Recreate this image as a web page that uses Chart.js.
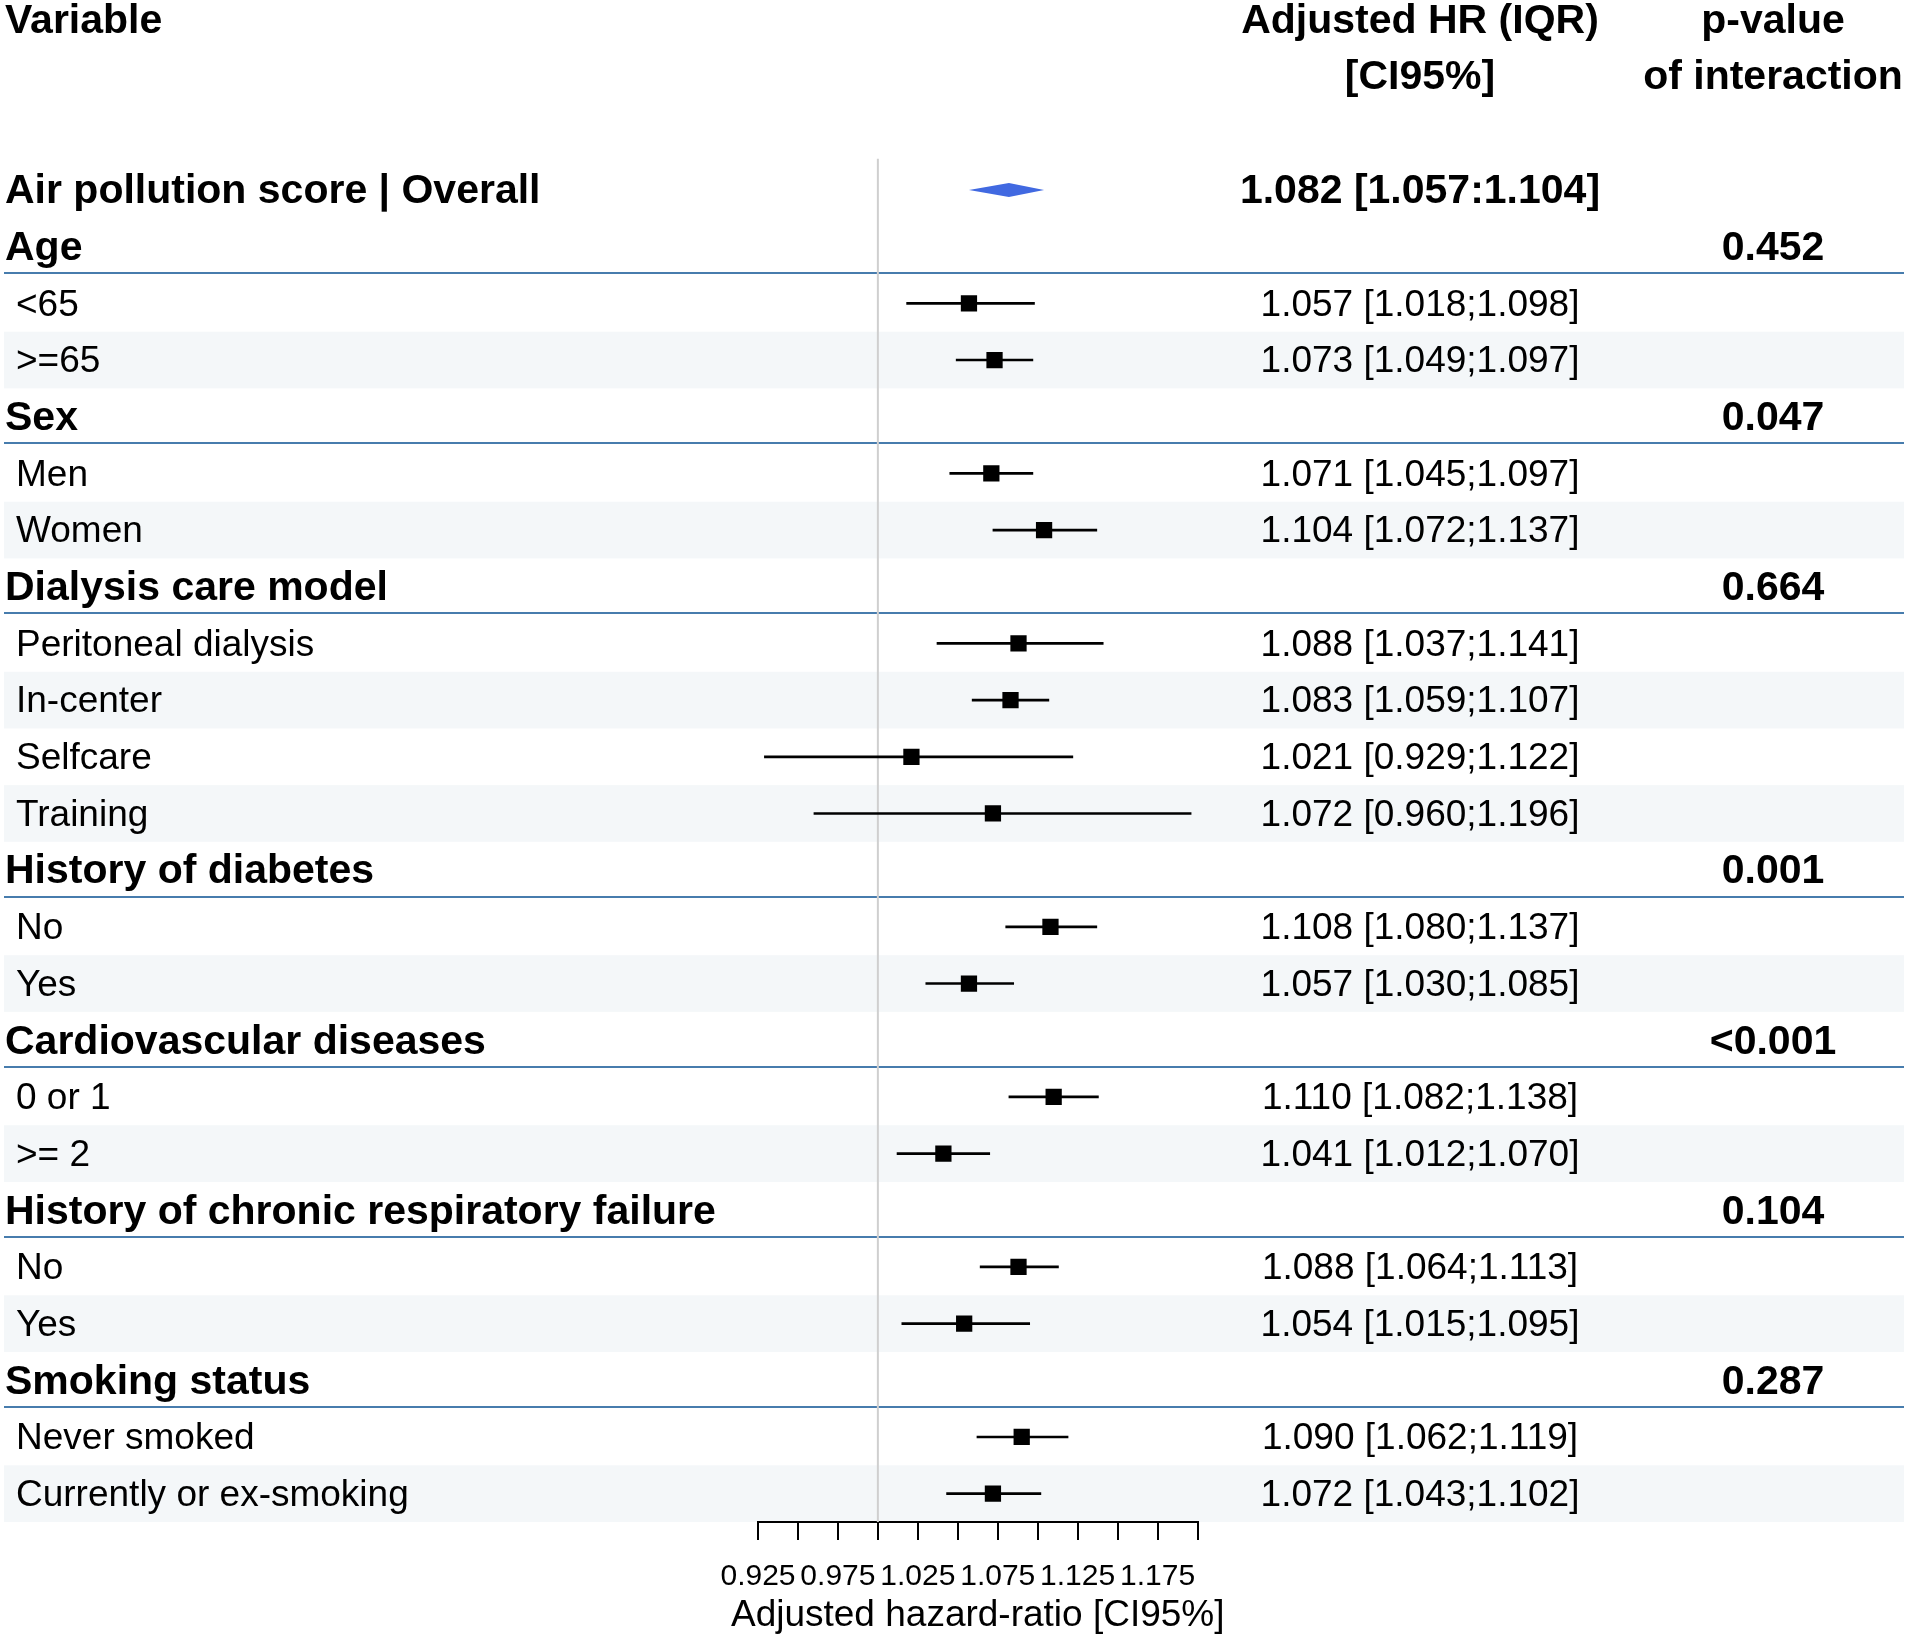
<!DOCTYPE html>
<html>
<head>
<meta charset="utf-8">
<script src="https://cdn.jsdelivr.net/npm/chart.js@4.4.1/dist/chart.umd.min.js"></script>
<style>
  html, body { margin: 0; padding: 0; background: #ffffff; }
  canvas { display: block; }
</style>
</head>
<body>
<canvas id="forest" width="1908" height="1638"></canvas>
<script>
// rows of the table, top to bottom
var rowLabels = ['Air pollution score | Overall', 'Age', '<65', '>=65', 'Sex', 'Men', 'Women',
  'Dialysis care model', 'Peritoneal dialysis', 'In-center', 'Selfcare', 'Training',
  'History of diabetes', 'No', 'Yes', 'Cardiovascular diseases', '0 or 1', '>= 2',
  'History of chronic respiratory failure', 'No', 'Yes', 'Smoking status', 'Never smoked',
  'Currently or ex-smoking'];
var rowKinds = ['overall', 'group', 'sub', 'sub', 'group', 'sub', 'sub',
  'group', 'sub', 'sub', 'sub', 'sub',
  'group', 'sub', 'sub', 'group', 'sub', 'sub',
  'group', 'sub', 'sub', 'group', 'sub', 'sub'];
var hr = [1.082, null, 1.057, 1.073, null, 1.071, 1.104,
  null, 1.088, 1.083, 1.021, 1.072,
  null, 1.108, 1.057, null, 1.110, 1.041,
  null, 1.088, 1.054, null, 1.090, 1.072];
var lower = [1.057, null, 1.018, 1.049, null, 1.045, 1.072,
  null, 1.037, 1.059, 0.929, 0.960,
  null, 1.080, 1.030, null, 1.082, 1.012,
  null, 1.064, 1.015, null, 1.062, 1.043];
var upper = [1.104, null, 1.098, 1.097, null, 1.097, 1.137,
  null, 1.141, 1.107, 1.122, 1.196,
  null, 1.137, 1.085, null, 1.138, 1.070,
  null, 1.113, 1.095, null, 1.119, 1.102];
var pInteraction = ['', '0.452', '', '', '0.047', '', '',
  '0.664', '', '', '', '',
  '0.001', '', '', '<0.001', '', '',
  '0.104', '', '', '0.287', '', ''];

var xTicks = [0.925, 0.95, 0.975, 1.0, 1.025, 1.05, 1.075, 1.1, 1.125, 1.15, 1.175, 1.2];
var xTickLabels = ['0.925', '', '0.975', '', '1.025', '', '1.075', '', '1.125', '', '1.175', ''];
var xTitle = 'Adjusted hazard-ratio [CI95%]';
var refValue = 1.0;

var FONT = '"Liberation Sans", Arial, Helvetica, sans-serif';

var ciData = [], pointData = [];
rowKinds.forEach(function (k, i) {
  if (k === 'sub') {
    ciData.push({ x: [lower[i], upper[i]], y: i });
    pointData.push({ x: hr[i], y: i });
  }
});

function hrText(i) {
  var sep = rowKinds[i] === 'overall' ? ':' : ';';
  return hr[i].toFixed(3) + ' [' + lower[i].toFixed(3) + sep + upper[i].toFixed(3) + ']';
}

// row backgrounds, group separators, diamond and table text
var tablePlugin = {
  id: 'tableBack',
  beforeDraw: function (chart) {
    var ctx = chart.ctx, y = chart.scales.y;
    var half = Math.abs(y.getPixelForValue(1) - y.getPixelForValue(0)) / 2;
    ctx.save();
    ctx.fillStyle = '#ffffff';
    ctx.fillRect(0, 0, chart.width, chart.height);
    var n = 0;
    rowKinds.forEach(function (k, i) {
      if (k !== 'sub') { n = 0; return; }
      if (n % 2 === 1) {
        ctx.fillStyle = '#f4f7f9';
        ctx.fillRect(4, y.getPixelForValue(i) - half, 1900, half * 2);
      }
      n++;
    });
    ctx.strokeStyle = '#477cad';
    ctx.lineWidth = 2;
    rowKinds.forEach(function (k, i) {
      if (k !== 'group') return;
      var ly = Math.round(y.getPixelForValue(i) + half - 2);
      ctx.beginPath();
      ctx.moveTo(4, ly);
      ctx.lineTo(1904, ly);
      ctx.stroke();
    });
    ctx.restore();
  },
  afterDatasetsDraw: function (chart) {
    var ctx = chart.ctx, x = chart.scales.x, y = chart.scales.y;
    var i = rowKinds.indexOf('overall');
    var cy = y.getPixelForValue(i);
    ctx.save();
    ctx.fillStyle = '#4169e1';
    ctx.beginPath();
    ctx.moveTo(x.getPixelForValue(lower[i]), cy);
    ctx.lineTo(x.getPixelForValue(hr[i]), cy - 7);
    ctx.lineTo(x.getPixelForValue(upper[i]), cy);
    ctx.lineTo(x.getPixelForValue(hr[i]), cy + 7);
    ctx.closePath();
    ctx.fill();
    ctx.restore();
  },
  afterDraw: function (chart) {
    var ctx = chart.ctx, x = chart.scales.x, y = chart.scales.y;
    var dy = 2;
    ctx.save();
    ctx.fillStyle = '#000000';
    ctx.textBaseline = 'middle';
    // header
    ctx.font = 'bold 41px ' + FONT;
    ctx.textAlign = 'left';
    ctx.fillText('Variable', 5, 22);
    ctx.textAlign = 'center';
    ctx.fillText('Adjusted HR (IQR)', 1420, 22);
    ctx.fillText('[CI95%]', 1420, 78);
    ctx.fillText('p-value', 1773, 22);
    ctx.fillText('of interaction', 1773, 78);
    rowKinds.forEach(function (k, i) {
      var cy = y.getPixelForValue(i) + dy;
      if (k === 'sub') {
        ctx.font = '37px ' + FONT;
        ctx.textAlign = 'left';
        ctx.fillText(rowLabels[i], 16, cy);
        ctx.textAlign = 'center';
        ctx.fillText(hrText(i), 1420, cy);
      } else {
        ctx.font = 'bold 41px ' + FONT;
        ctx.textAlign = 'left';
        ctx.fillText(rowLabels[i], 5, cy);
        ctx.textAlign = 'center';
        if (k === 'overall') ctx.fillText(hrText(i), 1420, cy);
        if (pInteraction[i]) ctx.fillText(pInteraction[i], 1773, cy);
      }
    });
    // axis title, centred under the x scale
    ctx.font = '37px ' + FONT;
    ctx.textAlign = 'center';
    ctx.fillText(xTitle, (x.left + x.right) / 2, x.bottom - 22);
    ctx.restore();
  }
};

new Chart('forest', {
  type: 'scatter',
  data: {
    datasets: [{
      type: 'line',
      data: [{ x: refValue, y: -0.55 }, { x: refValue, y: rowLabels.length - 0.5 }],
      borderColor: '#cfcfcf',
      borderWidth: 2,
      pointRadius: 0,
      clip: 4,
      order: 3
    }, {
      type: 'bar',
      indexAxis: 'y',
      data: ciData,
      backgroundColor: '#000000',
      barThickness: 2,
      order: 2
    }, {
      type: 'scatter',
      data: pointData,
      pointStyle: 'rect',
      radius: 11.5,
      backgroundColor: '#000000',
      borderWidth: 0,
      order: 1
    }]
  },
  options: {
    responsive: false,
    devicePixelRatio: 1,
    animation: false,
    events: [],
    layout: { padding: { left: 758, right: 710.5, top: 161.65, bottom: 0 } },
    plugins: { legend: { display: false }, tooltip: { enabled: false } },
    scales: {
      x: {
        type: 'linear',
        position: 'bottom',
        beginAtZero: false,
        offset: false,
        min: xTicks[0],
        max: xTicks[xTicks.length - 1],
        afterBuildTicks: function (s) { s.ticks = xTicks.map(function (v) { return { value: v }; }); },
        afterFit: function (s) { s.height = 116; },
        ticks: {
          autoSkip: false,
          maxRotation: 0,
          minRotation: 0,
          padding: 19,
          color: '#000000',
          font: { family: FONT, size: 30 },
          callback: function (v, i) { return xTickLabels[i]; }
        },
        grid: { drawOnChartArea: false, drawTicks: true, tickLength: 18, color: '#000000', lineWidth: 2, offset: false },
        border: { display: true, color: '#000000', width: 2 },
        title: { display: false }
      },
      y: {
        type: 'linear',
        display: false,
        reverse: true,
        offset: false,
        grid: { offset: false },
        min: -0.5,
        max: rowLabels.length - 0.5
      }
    }
  },
  plugins: [tablePlugin]
});
</script>
</body>
</html>
